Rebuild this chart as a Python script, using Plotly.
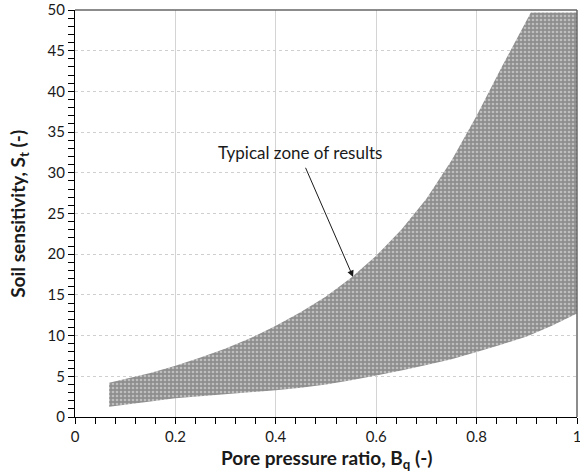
import plotly.graph_objects as go

# Boundaries of the "typical zone"
bq_upper = [0.068, 0.1, 0.15, 0.2, 0.25, 0.3, 0.35, 0.4, 0.45, 0.5, 0.55, 0.6,
            0.65, 0.7, 0.75, 0.8, 0.85, 0.908, 1.0]
st_upper = [4.2, 4.7, 5.4, 6.3, 7.3, 8.4, 9.7, 11.2, 12.9, 14.8, 17.1, 19.8,
            23.0, 26.8, 31.5, 37.0, 43.0, 49.7, 49.7]
bq_lower = [0.068, 0.1, 0.15, 0.2, 0.25, 0.3, 0.35, 0.4, 0.45, 0.5, 0.55, 0.6,
            0.65, 0.7, 0.75, 0.8, 0.85, 0.9, 0.95, 1.0]
st_lower = [1.25, 1.55, 1.9, 2.3, 2.55, 2.8, 3.05, 3.3, 3.6, 4.0, 4.5, 5.1,
            5.7, 6.4, 7.1, 8.0, 8.9, 9.9, 11.2, 12.7]

x_ticks = [0, 0.2, 0.4, 0.6, 0.8, 1]
x_tick_labels = ["0", "0.2", "0.4", "0.6", "0.8", "1"]
y_ticks = [0, 5, 10, 15, 20, 25, 30, 35, 40, 45, 50]

FONT = "Lato, 'Open Sans', sans-serif"

fig = go.Figure()
fig.add_trace(go.Scatter(
    x=bq_upper + bq_lower[::-1],
    y=st_upper + st_lower[::-1],
    fill="toself",
    mode="lines",
    line=dict(width=0),
    fillcolor="#8e8e8e",
    fillpattern=dict(shape=".", bgcolor="#8e8e8e", fgcolor="#eeeeee",
                     size=4, solidity=0.35, fillmode="overlay"),
    hoverinfo="skip",
    showlegend=False,
))

fig.add_annotation(x=0.554, y=17.2, ax=0.458, ay=30.8, xref="x", yref="y",
                   axref="x", ayref="y", showarrow=True, arrowhead=2,
                   arrowsize=1.3, arrowwidth=1, arrowcolor="#1a1a1a", text="")
fig.add_annotation(x=0.448, y=32.5, xref="x", yref="y", showarrow=False,
                   text="Typical zone of results",
                   font=dict(family=FONT, size=17, color="#1a1a1a"))

# axis titles
fig.add_annotation(x=0.5, y=-0.102, xref="paper", yref="paper", showarrow=False,
                   xanchor="center", yanchor="middle",
                   text="<b>Pore pressure ratio, B<sub>q</sub> (-)</b>",
                   font=dict(family=FONT, size=19, color="#1a1a1a"))
fig.add_annotation(x=-0.113, y=0.5, xref="paper", yref="paper", showarrow=False,
                   xanchor="center", yanchor="middle", textangle=-90,
                   text="<b>Soil sensitivity, S<sub>t</sub> (-)</b>",
                   font=dict(family=FONT, size=19, color="#1a1a1a"))

# top and right border
fig.add_shape(type="line", xref="paper", yref="paper", x0=0, x1=1, y0=1, y1=1,
              line=dict(color="#666666", width=1.5))
fig.add_shape(type="line", xref="paper", yref="paper", x0=1, x1=1, y0=0, y1=1,
              line=dict(color="#666666", width=1.5))

fig.update_layout(
    width=580, height=472,
    margin=dict(l=75, r=3, t=10, b=55, autoexpand=False),
    plot_bgcolor="white", paper_bgcolor="white",
    font=dict(family=FONT, size=14, color="#1a1a1a"),
    xaxis=dict(
        range=[0, 1], tickvals=x_ticks, ticktext=x_tick_labels,
        showline=True, linecolor="black", linewidth=1,
        ticks="outside", ticklen=6, tickcolor="black",
        showgrid=True, gridcolor="#d4d4d4", gridwidth=1,
        minor=dict(dtick=0.04, ticks="outside", ticklen=6, tickcolor="black", showgrid=False),
        zeroline=False, automargin=False, ticklabeloverflow="allow",
        tickfont=dict(family=FONT, size=15),
    ),
    yaxis=dict(
        range=[0, 50], tickvals=y_ticks,
        showline=True, linecolor="black", linewidth=1,
        ticks="outside", ticklen=6, tickcolor="black",
        showgrid=True, gridcolor="#cfcfcf", gridwidth=1, griddash="dot",
        minor=dict(dtick=1, ticks="outside", ticklen=6, tickcolor="black", showgrid=False),
        zeroline=False, automargin=False, ticklabeloverflow="allow",
        tickfont=dict(family=FONT, size=15),
    ),
)

# remove the default page margin so the figure fills the 580x472 window exactly
fig.write_html("out.html",
               config={"displayModeBar": False},
               post_script="document.body.style.margin='0';document.body.style.overflow='hidden';")
